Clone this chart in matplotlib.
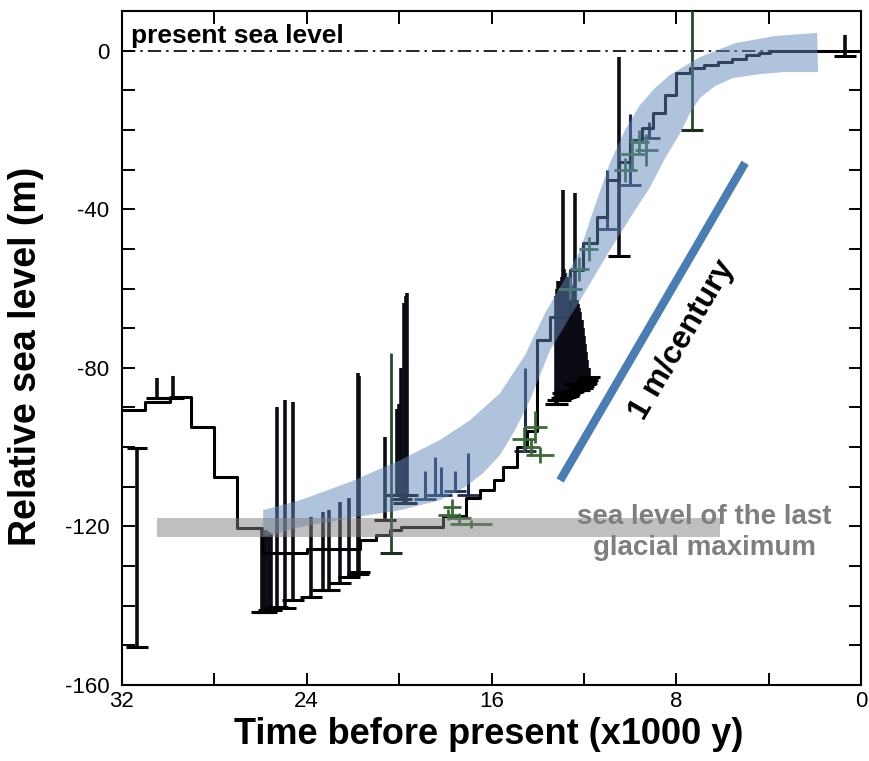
import matplotlib
matplotlib.use("Agg")
import matplotlib.pyplot as plt
from matplotlib.ticker import MultipleLocator

plt.rcParams['font.family'] = ['Liberation Sans', 'DejaVu Sans']
plt.rcParams['axes.unicode_minus'] = False

# main stepped sea level record (kyr before present, m)
step_t = [32.0, 31.0, 29.9, 29.0, 28.0, 27.0, 25.95, 24.0, 21.7, 21.0, 20.4, 19.9,
          18.1, 17.1, 16.5, 15.9, 15.5, 14.9, 14.45, 14.03, 13.46, 12.6, 12.03, 11.43,
          11.02, 10.5, 10.0, 9.5, 9.0, 8.5, 8.0, 7.4, 6.8, 6.2, 5.6, 5.0, 4.4, 3.95, 0.0]
step_y = [-90.7, -88.6, -87.3, -94.9, -107.5, -120.5, -126.8, -125.6, -123.5, -122.2, -121.0, -120.2,
          -117.5, -112.8, -110.8, -108.3, -105.0, -100.0, -96.0, -73.0, -67.2, -55.3, -48.5, -42.0,
          -32.6, -28.0, -22.5, -19.5, -15.7, -11.2, -5.6, -4.4, -3.6, -2.8, -2.0, -1.2, -0.5, 0.0, 0.0]

# black error bars: age, top, bottom
bar_t = [31.36, 30.5, 29.8, 25.95, 25.85, 25.75, 25.65, 25.55, 25.3, 24.94, 24.58, 23.8, 23.3,
         23.04, 22.56, 22.17, 21.8, 21.72, 20.6, 20.1, 20.0, 19.9, 19.8, 19.72, 19.65,
         13.2, 13.15, 13.1, 13.05, 12.95, 12.9, 12.85, 12.8, 12.75, 12.7, 12.65, 12.6, 12.55,
         12.5, 12.45, 12.38, 12.3, 12.25, 12.2, 12.15, 12.1, 12.05, 12.0, 11.95, 11.9, 11.85,
         11.8, 10.5, 0.7]
bar_top = [-100.3, -82.6, -82.0, -120.5, -121.0, -121.0, -121.5, -122.0, -89.8, -88.1, -88.6, -117.6, -116.3,
           -115.9, -113.8, -112.9, -81.4, -82.0, -97.4, -90.5, -89.0, -80.0, -63.7, -62.0, -61.1,
           -62.0, -60.0, -58.0, -58.0, -57.0, -35.2, -55.0, -56.0, -57.0, -57.0, -58.0, -58.0, -59.0,
           -60.0, -61.0, -36.0, -63.0, -64.0, -65.0, -66.0, -68.0, -70.0, -72.0, -74.0, -76.0, -78.0,
           -80.0, -1.5, 4.0]
bar_bot = [-150.4, -87.5, -87.5, -141.5, -141.5, -141.5, -141.0, -141.0, -140.3, -140.7, -138.6, -137.8, -136.0,
           -136.0, -134.4, -132.7, -131.9, -131.5, -118.4, -112.0, -112.0, -113.0, -114.0, -114.0, -112.0,
           -89.0, -89.0, -88.0, -88.0, -87.5, -86.4, -87.4, -87.4, -87.0, -87.0, -86.5, -86.0, -86.0,
           -86.0, -85.8, -84.0, -85.6, -85.6, -85.6, -85.0, -85.0, -84.5, -84.0, -84.0, -83.9, -83.0,
           -82.3, -51.8, -1.3]

# navy error bars: age, top, bottom
navy_t = [18.9, 18.45, 18.2, 17.6, 17.0, 14.55, 11.0, 10.0, 9.2]
navy_top = [-106.0, -102.4, -105.0, -106.0, -101.5, -80.0, -30.0, -16.0, -18.0]
navy_bot = [-113.0, -112.0, -112.0, -111.0, -112.0, -101.0, -45.0, -34.0, -22.0]

# green data points with age and depth uncertainty
green_t = [17.9, 17.7, 17.4, 16.9, 14.6, 14.3, 14.1, 13.9, 12.6, 12.2, 11.8, 10.2, 9.9, 9.6, 9.3]
green_y = [-117.0, -115.0, -118.0, -119.5, -98.0, -100.0, -95.0, -102.0, -60.0, -55.0, -50.0,
           -30.0, -26.0, -23.0, -25.0]
green_xerr = [0.4, 0.4, 0.5, 0.9, 0.5, 0.4, 0.5, 0.6, 0.5, 0.4, 0.4, 0.5, 0.6, 0.4, 0.5]
green_yerr = [1.5, 2.0, 1.5, 1.0, 3.0, 2.0, 4.0, 2.0, 3.0, 3.0, 3.0, 3.0, 4.0, 3.0, 4.0]

# long green bars: age, top, bottom
gbar_t = [20.35, 7.33]
gbar_top = [-76.3, 12.0]
gbar_bot = [-126.8, -20.0]

# envelope of the sea level curve
band_up_t = [25.89, 24.29, 22.13, 19.96, 18.23, 16.93, 15.63, 14.55, 13.68, 12.81, 12.16, 11.51,
             10.87, 10.22, 9.57, 8.92, 8.27, 6.97, 5.45, 3.72, 1.90]
band_up_y = [-115.9, -113.4, -108.8, -103.3, -98.2, -93.2, -86.4, -76.8, -66.2, -57.4, -50.3, -38.9,
             -28.3, -20.0, -13.7, -9.4, -6.1, -1.6, 1.9, 3.7, 4.5]
band_lo_t = [25.89, 24.29, 22.13, 19.96, 18.23, 17.15, 16.37, 15.63, 14.98, 14.33, 13.46, 12.16,
             10.87, 10.00, 9.13, 8.48, 7.83, 7.40, 6.97, 6.32, 5.54, 4.37, 3.37, 1.86]
band_lo_y = [-122.7, -120.2, -117.9, -115.9, -113.4, -110.1, -106.6, -102.0, -95.7, -88.1, -75.5, -62.9,
             -50.3, -42.2, -34.4, -27.1, -20.8, -15.7, -11.9, -8.9, -6.9, -5.9, -5.4, -5.4]

# last glacial maximum level
lgm_t = [30.48, 6.10]
lgm_y = [-118.0, -122.7]

# 1 m per century reference
rate_t = [13.03, 5.02]
rate_y = [-108.4, -28.3]

fig = plt.figure(figsize=(8.7, 7.61), dpi=100)
ax = fig.add_axes([0.1402, 0.0999, 0.8495, 0.8856])

ax.axhline(0, color='black', lw=1.2, ls=(0, (8, 3, 1.5, 3)), zorder=1)

ax.plot(step_t, step_y, drawstyle='steps-post', color='black', lw=2.2, zorder=3)

ax.vlines(bar_t, bar_bot, bar_top, color='#0b0b14', lw=2.6, zorder=2)
ax.plot(bar_t, bar_bot, ls='none', marker='_', ms=16, mew=2.2, color='black', zorder=2)
ax.plot(bar_t[:1], bar_top[:1], ls='none', marker='_', ms=14, mew=2.2, color='black', zorder=2)

ax.vlines(navy_t, navy_bot, navy_top, color='#1d2a4a', lw=2.2, zorder=2)
ax.plot(navy_t, navy_bot, ls='none', marker='_', ms=16, mew=2.0, color='#1d2a4a', zorder=2)

ax.errorbar(green_t, green_y, xerr=green_xerr, yerr=green_yerr, fmt='none',
            ecolor='#3b6a34', elinewidth=2.0, zorder=3)
ax.vlines(gbar_t, gbar_bot, gbar_top, color='#244a2a', lw=2.0, zorder=3)
ax.plot(gbar_t, gbar_bot, ls='none', marker='_', ms=16, mew=2.2, color='#1e2e1e', zorder=3)

ax.fill(band_up_t + band_lo_t[::-1], band_up_y + band_lo_y[::-1],
        color='#6189bd', alpha=0.5, lw=0, zorder=4)
ax.fill_between(lgm_t, lgm_y[0], lgm_y[1], color='#808080', alpha=0.5, lw=0, zorder=4)

ax.plot(rate_t, rate_y, color='#4a7db4', lw=6, solid_capstyle='butt', zorder=5)

ax.text(31.6, 1.9, 'present sea level', fontsize=19, fontweight='bold', ha='left', va='baseline')
ax.text(7.75, -73, '1 m/century', fontsize=23, fontweight='bold', rotation=59.7,
        rotation_mode='anchor', ha='center', va='center')
ax.text(6.79, -121.5, 'sea level of the last\nglacial maximum', fontsize=20, fontweight='bold',
        color='#7f7f7f', ha='center', va='center', linespacing=1.25, zorder=6)

ax.set_xlim(32, 0)
ax.set_ylim(-160, 10)
ax.xaxis.set_major_locator(MultipleLocator(8))
ax.xaxis.set_minor_locator(MultipleLocator(4))
ax.yaxis.set_major_locator(MultipleLocator(40))
ax.yaxis.set_minor_locator(MultipleLocator(10))
ax.tick_params(which='both', direction='in', top=True, right=True, length=9, width=1.4,
               labelsize=16)
ax.tick_params(axis='y', pad=9)
ax.tick_params(axis='x', pad=4)
for s in ax.spines.values():
    s.set_linewidth(1.5)

ax.set_xlabel('Time before present (x1000 y)', fontsize=26, fontweight='bold')
ax.set_ylabel('Relative sea level (m)', fontsize=27, fontweight='bold')
ax.xaxis.set_label_coords(0.496, -0.047)
ax.yaxis.set_label_coords(-0.106, 0.487)

fig.savefig('out.png', dpi=100)
